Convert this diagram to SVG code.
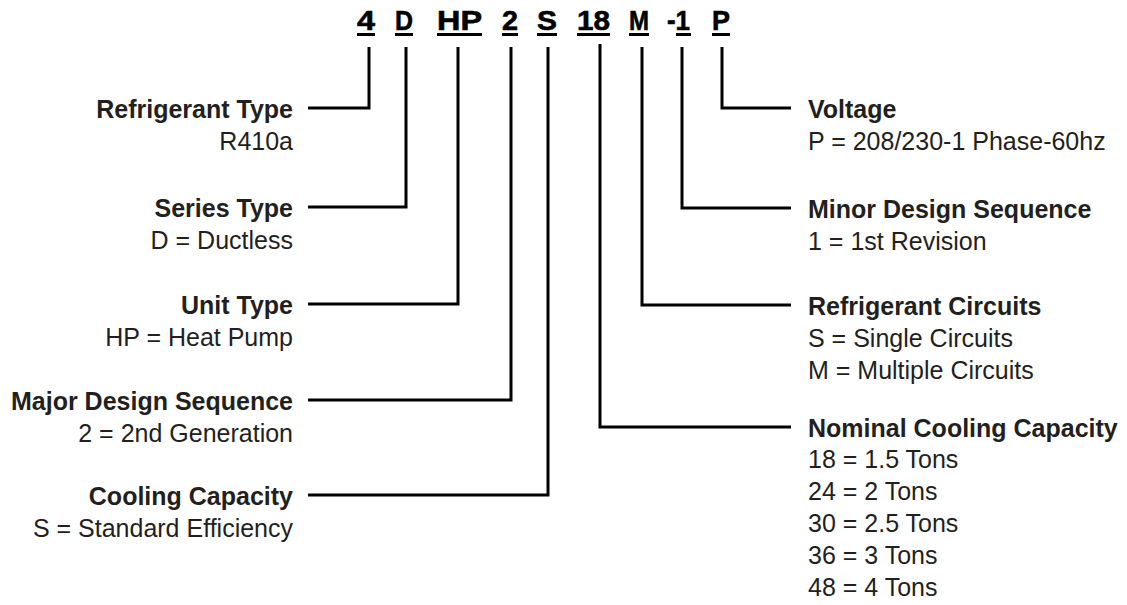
<svg xmlns="http://www.w3.org/2000/svg" width="1127" height="605" viewBox="0 0 1127 605">
  <style>
    .code { font-family: "Liberation Sans", Arial, sans-serif; font-weight: bold; font-size: 28px; fill: #000; stroke: #000; stroke-width: 0.6px; }
    .ul { stroke: #000; stroke-width: 3; fill: none; }
    .lbl { font-family: "Liberation Sans", Arial, sans-serif; font-weight: bold; font-size: 25px; fill: #231f20; }
    .desc { font-family: "Liberation Sans", Arial, sans-serif; font-size: 25px; fill: #231f20; }
    .left { text-anchor: end; }
    .conn { stroke: #000; stroke-width: 3; fill: none; stroke-linejoin: miter; stroke-linecap: butt; }
  </style>
  <rect width="1127" height="605" fill="#fff"/>

  <g id="codes">
    <g id="code-4"><text class="code" x="357" y="30" textLength="18" lengthAdjust="spacingAndGlyphs">4</text><line class="ul" x1="357" y1="34.5" x2="375" y2="34.5"/></g>
    <g id="code-D"><text class="code" x="395" y="30" textLength="18" lengthAdjust="spacingAndGlyphs">D</text><line class="ul" x1="395" y1="34.5" x2="413" y2="34.5"/></g>
    <g id="code-HP"><text class="code" x="437" y="30" textLength="45" lengthAdjust="spacingAndGlyphs">HP</text><line class="ul" x1="437" y1="34.5" x2="482" y2="34.5"/></g>
    <g id="code-2"><text class="code" x="502" y="30" textLength="16" lengthAdjust="spacingAndGlyphs">2</text><line class="ul" x1="502" y1="34.5" x2="518" y2="34.5"/></g>
    <g id="code-S"><text class="code" x="537" y="30" textLength="20" lengthAdjust="spacingAndGlyphs">S</text><line class="ul" x1="537" y1="34.5" x2="557" y2="34.5"/></g>
    <g id="code-18"><text class="code" x="577" y="30" textLength="33" lengthAdjust="spacingAndGlyphs">18</text><line class="ul" x1="577" y1="34.5" x2="610" y2="34.5"/></g>
    <g id="code-M"><text class="code" x="629" y="30" textLength="20" lengthAdjust="spacingAndGlyphs">M</text><line class="ul" x1="629" y1="34.5" x2="649" y2="34.5"/></g>
    <g id="code-1"><text class="code" x="667" y="30" textLength="23" lengthAdjust="spacingAndGlyphs">-1</text><line class="ul" x1="676" y1="34.5" x2="691" y2="34.5"/></g>
    <g id="code-P"><text class="code" x="712" y="30" textLength="18" lengthAdjust="spacingAndGlyphs">P</text><line class="ul" x1="712" y1="34.5" x2="730" y2="34.5"/></g>
  </g>

  <g id="connectors">
    <path class="conn" d="M369,47 V108 H308"/>
    <path class="conn" d="M406,47 V207 H308"/>
    <path class="conn" d="M458,47 V304 H308"/>
    <path class="conn" d="M511,47 V400 H308"/>
    <path class="conn" d="M548,47 V495 H308"/>
    <path class="conn" d="M600,44 V427 H791"/>
    <path class="conn" d="M642,47 V305 H791"/>
    <path class="conn" d="M682,47 V208 H791"/>
    <path class="conn" d="M722,47 V108 H791"/>
  </g>

  <g id="refrigerant-type">
    <text class="lbl left" x="293" y="117.5">Refrigerant Type</text>
    <text class="desc left" x="293" y="149.5">R410a</text>
  </g>
  <g id="series-type">
    <text class="lbl left" x="293" y="216.5">Series Type</text>
    <text class="desc left" x="293" y="248.5">D = Ductless</text>
  </g>
  <g id="unit-type">
    <text class="lbl left" x="293" y="313.5">Unit Type</text>
    <text class="desc left" x="293" y="345.5">HP = Heat Pump</text>
  </g>
  <g id="major-design-sequence">
    <text class="lbl left" x="293" y="409.5">Major Design Sequence</text>
    <text class="desc left" x="293" y="441.5">2 = 2nd Generation</text>
  </g>
  <g id="cooling-capacity">
    <text class="lbl left" x="293" y="504.5">Cooling Capacity</text>
    <text class="desc left" x="293" y="536.5">S = Standard Efficiency</text>
  </g>

  <g id="voltage">
    <text class="lbl" x="808" y="117.5">Voltage</text>
    <text class="desc" x="808" y="149.5">P = 208/230-1 Phase-60hz</text>
  </g>
  <g id="minor-design-sequence">
    <text class="lbl" x="808" y="217.5">Minor Design Sequence</text>
    <text class="desc" x="808" y="249.5">1 = 1st Revision</text>
  </g>
  <g id="refrigerant-circuits">
    <text class="lbl" x="808" y="314.5">Refrigerant Circuits</text>
    <text class="desc" x="808" y="346.5">S = Single Circuits</text>
    <text class="desc" x="808" y="378.5">M = Multiple Circuits</text>
  </g>
  <g id="nominal-cooling-capacity">
    <text class="lbl" x="808" y="436.5">Nominal Cooling Capacity</text>
    <text class="desc" x="808" y="468">18 = 1.5 Tons</text>
    <text class="desc" x="808" y="500">24 = 2 Tons</text>
    <text class="desc" x="808" y="532">30 = 2.5 Tons</text>
    <text class="desc" x="808" y="564">36 = 3 Tons</text>
    <text class="desc" x="808" y="596">48 = 4 Tons</text>
  </g>
</svg>
